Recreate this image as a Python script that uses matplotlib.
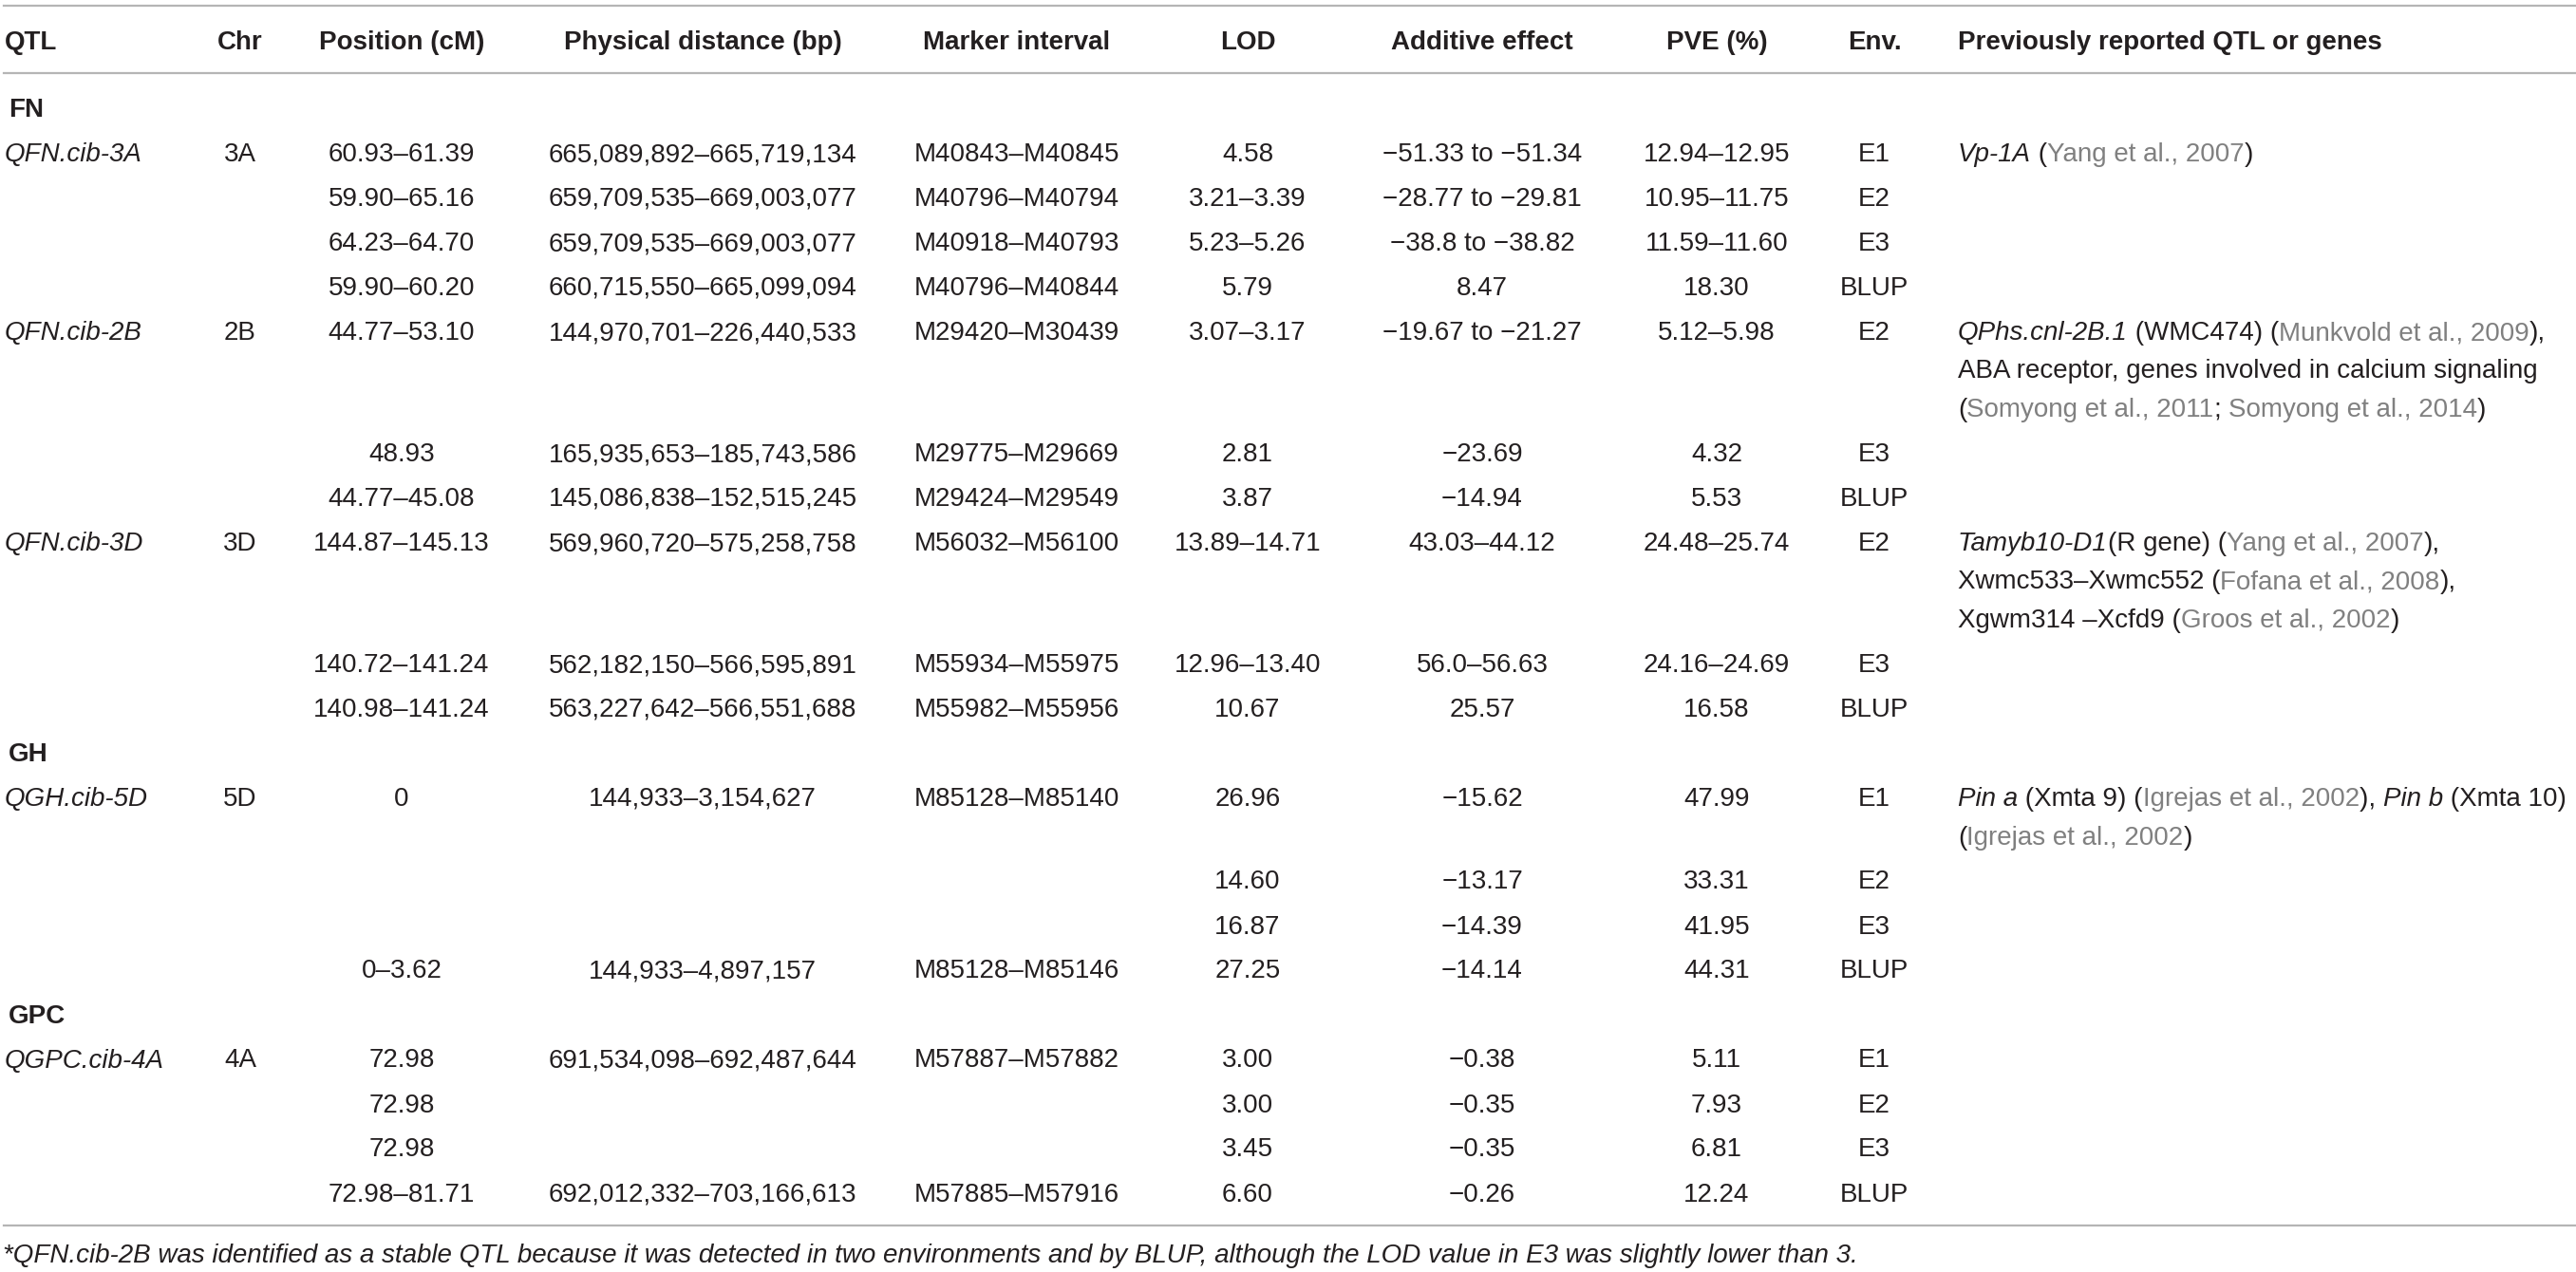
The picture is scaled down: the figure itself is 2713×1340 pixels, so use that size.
import matplotlib
matplotlib.use("Agg")
from matplotlib import pyplot as plt
from matplotlib.font_manager import FontProperties

# ---- table content ----
headers = ["QTL", "Chr", "Position (cM)", "Physical distance (bp)", "Marker interval",
           "LOD", "Additive effect", "PVE (%)", "Env.", "Previously reported QTL or genes"]

sections = ["FN", "GH", "GPC"]
section_start = [0, 10, 14]

qtl = ["QFN.cib-3A", "", "", "", "QFN.cib-2B", "", "", "QFN.cib-3D", "", "",
       "QGH.cib-5D", "", "", "", "QGPC.cib-4A", "", "", ""]
chrom = ["3A", "", "", "", "2B", "", "", "3D", "", "",
         "5D", "", "", "", "4A", "", "", ""]
position = ["60.93–61.39", "59.90–65.16", "64.23–64.70", "59.90–60.20",
            "44.77–53.10", "48.93", "44.77–45.08",
            "144.87–145.13", "140.72–141.24", "140.98–141.24",
            "0", "", "", "0–3.62",
            "72.98", "72.98", "72.98", "72.98–81.71"]
physical = ["665,089,892–665,719,134", "659,709,535–669,003,077", "659,709,535–669,003,077",
            "660,715,550–665,099,094",
            "144,970,701–226,440,533", "165,935,653–185,743,586", "145,086,838–152,515,245",
            "569,960,720–575,258,758", "562,182,150–566,595,891", "563,227,642–566,551,688",
            "144,933–3,154,627", "", "", "144,933–4,897,157",
            "691,534,098–692,487,644", "", "", "692,012,332–703,166,613"]
marker = ["M40843–M40845", "M40796–M40794", "M40918–M40793", "M40796–M40844",
          "M29420–M30439", "M29775–M29669", "M29424–M29549",
          "M56032–M56100", "M55934–M55975", "M55982–M55956",
          "M85128–M85140", "", "", "M85128–M85146",
          "M57887–M57882", "", "", "M57885–M57916"]
lod = ["4.58", "3.21–3.39", "5.23–5.26", "5.79",
       "3.07–3.17", "2.81", "3.87",
       "13.89–14.71", "12.96–13.40", "10.67",
       "26.96", "14.60", "16.87", "27.25",
       "3.00", "3.00", "3.45", "6.60"]
additive = ["−51.33 to −51.34", "−28.77 to −29.81", "−38.8 to −38.82", "8.47",
            "−19.67 to −21.27", "−23.69", "−14.94",
            "43.03–44.12", "56.0–56.63", "25.57",
            "−15.62", "−13.17", "−14.39", "−14.14",
            "−0.38", "−0.35", "−0.35", "−0.26"]
pve = ["12.94–12.95", "10.95–11.75", "11.59–11.60", "18.30",
       "5.12–5.98", "4.32", "5.53",
       "24.48–25.74", "24.16–24.69", "16.58",
       "47.99", "33.31", "41.95", "44.31",
       "5.11", "7.93", "6.81", "12.24"]
env = ["E1", "E2", "E3", "BLUP",
       "E2", "E3", "BLUP",
       "E2", "E3", "BLUP",
       "E1", "E2", "E3", "BLUP",
       "E1", "E2", "E3", "BLUP"]

# citations: row -> lines -> (text, style) ; n normal, i italic, g grey citation
reported = {
    0: [[("Vp-1A", "i"), (" (", "n"), ("Yang et al., 2007", "g"), (")", "n")]],
    4: [[("QPhs.cnl-2B.1", "i"), (" (WMC474) (", "n"), ("Munkvold et al., 2009", "g"), ("),", "n")],
        [("ABA receptor, genes involved in calcium signaling", "n")],
        [("(", "n"), ("Somyong et al., 2011", "g"), ("; ", "n"), ("Somyong et al., 2014", "g"), (")", "n")]],
    7: [[("Tamyb10-D1", "i"), ("(R gene) (", "n"), ("Yang et al., 2007", "g"), ("),", "n")],
        [("Xwmc533–Xwmc552 (", "n"), ("Fofana et al., 2008", "g"), ("),", "n")],
        [("Xgwm314 –Xcfd9 (", "n"), ("Groos et al., 2002", "g"), (")", "n")]],
    10: [[("Pin a", "i"), (" (Xmta 9) (", "n"), ("Igrejas et al., 2002", "g"), ("), ", "n"),
          ("Pin b", "i"), (" (Xmta 10)", "n")],
         [("(", "n"), ("Igrejas et al., 2002", "g"), (")", "n")]],
}

footnote = ("*QFN.cib-2B was identified as a stable QTL because it was detected in two "
            "environments and by BLUP, although the LOD value in E3 was slightly lower than 3.")

# ---- layout ----
W, H = 2713, 1340
FONT = "Liberation Sans"
SIZE = 20
INK = "#231f20"
GREY = "#808080"
RULE = "#b5b5b5"

col_x = [5, 253, 423, 740, 1071, 1314, 1561, 1808, 1974, 2062]
col_ha = ["left", "center", "center", "center", "center", "center", "center", "center", "center", "left"]

fig = plt.figure(figsize=(W / 100, H / 100), dpi=100)
ax = fig.add_axes([0, 0, 1, 1])
ax.set_xlim(0, W)
ax.set_ylim(H, 0)
ax.axis("off")

base = 10  # baseline offset from row centre
props = {
    "n": FontProperties(family=FONT, size=SIZE),
    "i": FontProperties(family=FONT, size=SIZE, style="italic"),
    "g": FontProperties(family=FONT, size=SIZE),
    "b": FontProperties(family=FONT, size=SIZE, weight="bold"),
}
renderer = fig.canvas.get_renderer()


def advance(s, prop):
    w1 = renderer.get_text_width_height_descent("X" + s + "X", prop, False)[0]
    w0 = renderer.get_text_width_height_descent("XX", prop, False)[0]
    return w1 - w0


def put(x, y, s, style="n", ha="center"):
    ax.text(x, y + base, s, fontproperties=props[style], ha=ha, va="baseline",
            color=GREY if style == "g" else INK)


def put_segments(x, y, segs):
    for s, style in segs:
        put(x, y, s, style, ha="left")
        x += advance(s, props[style])


for y in (6, 77, 1291):
    ax.axhline(y, xmin=4 / W, xmax=1, color=RULE, lw=1.6)

for h, x, ha in zip(headers, col_x, col_ha):
    put(x, 42, h, "b", ha)

row_h = 47
line_h = 40.5
y = 113
columns = [chrom, position, physical, marker, lod, additive, pve, env]
for i in range(len(qtl)):
    if i in section_start:
        put(9, y, sections[section_start.index(i)], "b", ha="left")
        y += row_h
    if qtl[i]:
        put(col_x[0], y, qtl[i], "i", ha="left")
    for col, x in zip(columns, col_x[1:9]):
        if col[i]:
            put(x, y, col[i])
    lines = reported.get(i, [])
    for k, segs in enumerate(lines):
        put_segments(col_x[9], y + k * line_h, segs)
    y += row_h + max(len(lines) - 1, 0) * line_h

put(3, 1320, footnote, "i", ha="left")

fig.savefig("out.png", dpi=100)
